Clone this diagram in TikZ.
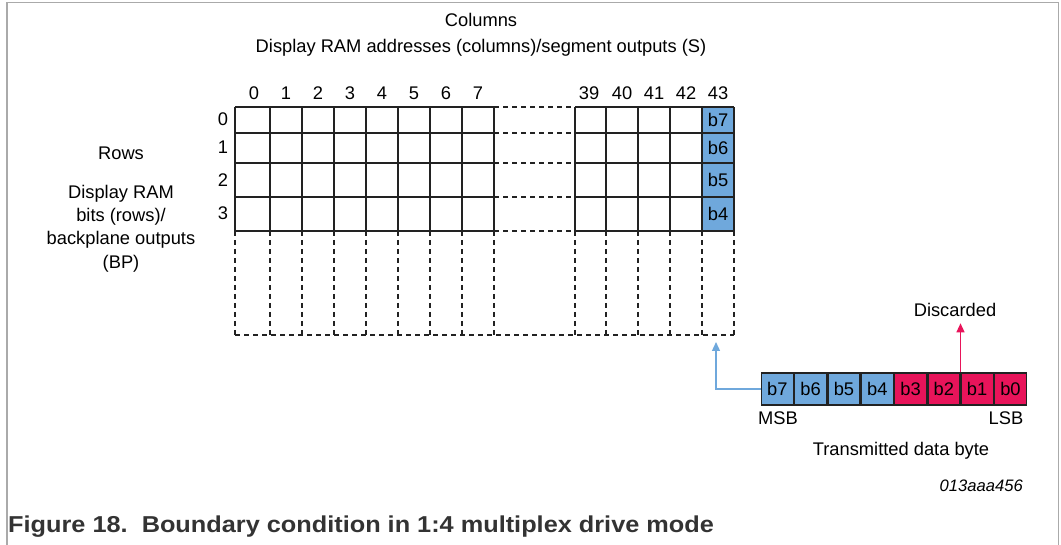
\documentclass[tikz,border=0pt]{standalone}
\usepackage{fontspec}
\setmainfont{Liberation Sans}
\usetikzlibrary{arrows.meta}
\definecolor{cellblue}{HTML}{6FA8DC}
\definecolor{cellred}{HTML}{E8145A}
\definecolor{framegray}{HTML}{AAAAAA}
\definecolor{linedark}{HTML}{222222}
\definecolor{captext}{HTML}{333333}
\tikzset{
  lbl/.style={inner sep=0pt, font=\fontsize{18.3}{22}\selectfont, text=black},
  gridline/.style={draw=linedark, line width=1.4pt},
  dashline/.style={draw=linedark, line width=1.3pt, dash pattern=on 5pt off 4pt},
  bytecell/.style={draw=linedark, line width=1.3pt, minimum width=32pt, minimum height=32pt, inner sep=0pt, font=\fontsize{18.3}{22}\selectfont, anchor=north west},
  bluecell/.style={bytecell, fill=cellblue},
  redcell/.style={bytecell, fill=cellred},
  bluearrow/.style={draw=cellblue, line width=1.3pt, -{Triangle[length=9pt,width=8pt]}},
  redarrow/.style={draw=cellred, line width=1.3pt, -{Triangle[length=9pt,width=8pt]}},
}
\begin{document}
\begin{tikzpicture}[x=1pt,y=-1pt]
\useasboundingbox (0,0) rectangle (1061,545);
% frame
\draw[framegray, line width=1.5pt] (7,545) -- (7,2.5) -- (1058.5,2.5) -- (1058.5,545);
% titles
\node[lbl] (colt) at (481,20) {Columns};
\node[lbl] (cols) at (481,48) {Display RAM addresses (columns)/segment outputs (S)};
\node[lbl] (rowst) at (121,153) {Rows};
\node[lbl, align=center, font=\fontsize{18.3}{23.2}\selectfont, anchor=north] (rowsd) at (121,185) {Display RAM\\bits (rows)/\\backplane outputs\\(BP)};
% column labels
\foreach \lab/\cx in {0/254,1/286,2/318,3/350,4/382,5/414,6/446,7/478,39/589,40/622,41/654,42/686,43/718}
  \node[lbl] (c\lab) at (\cx,93) {\lab};
% row labels
\foreach \lab/\cy in {0/119,1/147,2/180,3/213}
  \node[lbl] (r\lab) at (223,\cy) {\lab};
% blue column
\fill[cellblue] (702,107) rectangle (734,231);
% solid grids
\foreach \x in {235,270,302,334,366,398,430,462,494}
  \draw[gridline] (\x,107) -- (\x,231);
\foreach \x in {575,606,638,670,702,734}
  \draw[gridline] (\x,107) -- (\x,231);
\foreach \y in {107,133,163,197,231} {
  \draw[gridline] (235,\y) -- (494,\y);
  \draw[gridline] (575,\y) -- (734,\y);
  \draw[dashline] (494,\y) -- (575,\y);
}
% blue cell labels
\foreach \lab/\cy in {b7/120,b6/148,b5/180,b4/214}
  \node[lbl] (g\lab) at (718,\cy) {\lab};
% dashed lower area
\foreach \x in {235,270,302,334,366,398,430,462,494,575,606,638,670,702,734}
  \draw[dashline] (\x,231) -- (\x,335);
\draw[dashline] (235,335) -- (734,335);
\coordinate (tgt) at (716,342);
% byte
\node[bluecell] (x7) at (760.7,372.3) {b7};
\node[bluecell] (x6) at (x7.north east) {b6};
\node[bluecell] (x5) at (x6.north east) {b5};
\node[bluecell] (x4) at (x5.north east) {b4};
\node[redcell] (x3) at (x4.north east) {b3};
\node[redcell] (x2) at (x3.north east) {b2};
\node[redcell] (x1) at (x2.north east) {b1};
\node[redcell] (x0) at (x1.north east) {b0};
\node[lbl] (msb) at (778,418) {MSB};
\node[lbl] (lsb) at (1006,418) {LSB};
\node[lbl] (tdb) at (901,451) {Transmitted data byte};
\node[lbl] (disc) at (955,310) {Discarded};
\draw[bluearrow] (x7.west) -| (tgt);
\draw[redarrow] (x1.north west) -- ++(0,-49);
% ID
\node[lbl, font=\fontsize{16.6}{20}\selectfont\itshape, anchor=east] (id) at (1023,486) {013aaa456};
% caption
\node[lbl, text=captext, font=\fontsize{23}{26}\selectfont\bfseries, anchor=west] (cap) at (8,527) {\scalebox{1.1}[1]{Figure 18.\ \ Boundary condition in 1:4 multiplex drive mode}};
\end{tikzpicture}
\end{document}
